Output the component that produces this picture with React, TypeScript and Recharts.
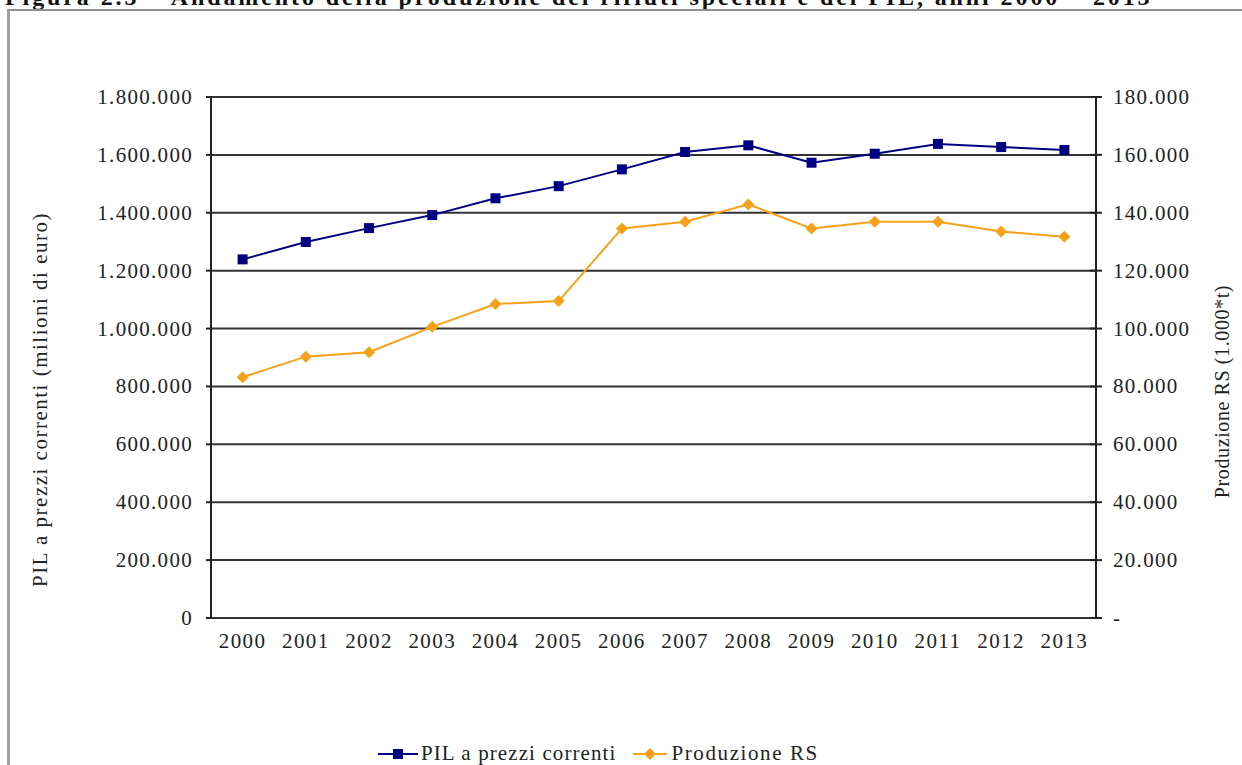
import { LineChart, Line, XAxis, YAxis, CartesianGrid, Legend } from 'recharts';

// Anni e valori
const years = [2000, 2001, 2002, 2003, 2004, 2005, 2006, 2007, 2008, 2009, 2010, 2011, 2012, 2013];
const pilValues = [1239000, 1299000, 1347000, 1392000, 1450000, 1492000, 1550000, 1610000, 1633000, 1573000, 1604000, 1638000, 1627000, 1617000];
const rsValues = [83200, 90300, 91800, 100600, 108500, 109500, 134600, 136900, 142900, 134600, 136900, 136900, 133500, 131700];
const pilTicks = [0, 200000, 400000, 600000, 800000, 1000000, 1200000, 1400000, 1600000, 1800000];
const rsTicks = [0, 20000, 40000, 60000, 80000, 100000, 120000, 140000, 160000, 180000];

const TITLE = 'Figura 2.5 – Andamento della produzione dei rifiuti speciali e del PIL, anni 2000 – 2013';
const PIL_NAME = 'PIL a prezzi correnti';
const RS_NAME = 'Produzione RS';

const NAVY = '#000080';
const ORANGE = '#F7A11A';
const FONT = '"Liberation Serif", "Times New Roman", serif';

const data = years.map((year, i) => ({ year, pil: pilValues[i], rs: rsValues[i] }));
// bordi tra le categorie (tacche dell'asse X)
const boundaryTicks = [...years.map((y) => y - 0.5), years[years.length - 1] + 0.5];

const fmt = (v: number) => String(v).replace(/\B(?=(\d{3})+(?!\d))/g, '.');

const SquareDot = (props: any) => {
  const { cx, cy } = props;
  if (cx == null || cy == null) return null;
  return <rect x={cx - 5} y={cy - 5} width={10} height={10} fill={NAVY} />;
};

const DiamondDot = (props: any) => {
  const { cx, cy } = props;
  if (cx == null || cy == null) return null;
  return <polygon points={`${cx},${cy - 6} ${cx + 6},${cy} ${cx},${cy + 6} ${cx - 6},${cy}`} fill={ORANGE} />;
};

const LeftTick = ({ x, y, payload }: any) => (
  <g>
    <line x1={x - 5} x2={x} y1={y} y2={y} stroke="#222" strokeWidth={2} />
    <text x={x - 18} y={y + 7} textAnchor="end" fontSize={21} letterSpacing={1.3} fill="#222" fontFamily={FONT}>
      {fmt(payload.value)}
    </text>
  </g>
);

const RightTick = ({ x, y, payload }: any) => (
  <g>
    <line x1={x - 6} x2={x + 6} y1={y} y2={y} stroke="#222" strokeWidth={2} />
    <text x={x + 17} y={y + 7} textAnchor="start" fontSize={21} letterSpacing={1.3} fill="#222" fontFamily={FONT}>
      {payload.value === 0 ? '-' : fmt(payload.value)}
    </text>
  </g>
);

const TickMark = ({ x, y }: any) => <line x1={x} x2={x} y1={y - 6} y2={y + 6} stroke="#222" strokeWidth={2} />;

const YearLabel = ({ x, y, payload }: any) => (
  <text x={x} y={y + 30} textAnchor="middle" fontSize={21} letterSpacing={1.4} fill="#222" fontFamily={FONT}>
    {payload.value}
  </text>
);

const LegendContent = () => (
  <div style={{ display: 'flex', alignItems: 'center', fontFamily: FONT, fontSize: 21, color: '#222', letterSpacing: 1.1 }}>
    <svg width={40} height={20}>
      <line x1={0} x2={40} y1={10} y2={10} stroke={NAVY} strokeWidth={2} />
      <rect x={15} y={5} width={10} height={10} fill={NAVY} />
    </svg>
    <span style={{ marginLeft: 3, marginRight: 17 }}>{PIL_NAME}</span>
    <svg width={34} height={20}>
      <line x1={0} x2={34} y1={10} y2={10} stroke={ORANGE} strokeWidth={2} />
      <polygon points="17,4 23,10 17,16 11,10" fill={ORANGE} />
    </svg>
    <span style={{ marginLeft: 4, letterSpacing: 1.6 }}>{RS_NAME}</span>
  </div>
);

const App = () => {
  return (
    <div
      style={{
        position: 'absolute',
        left: 0,
        top: 0,
        width: 1242,
        height: 765,
        overflow: 'hidden',
        background: '#fff',
        fontFamily: FONT,
      }}
    >
      <div
        style={{
          position: 'absolute',
          left: 5,
          top: -16,
          fontSize: 24,
          fontWeight: 'bold',
          letterSpacing: 2.9,
          whiteSpace: 'nowrap',
          color: '#111',
        }}
      >
        {TITLE}
      </div>
      <div
        style={{
          position: 'absolute',
          left: 7,
          top: 9,
          width: 1300,
          height: 800,
          borderLeft: '3px solid #a0a0a0',
          borderTop: '2px solid #909090',
        }}
      />
      <div style={{ position: 'absolute', left: 0, top: 0 }}>
        <LineChart width={1242} height={765} data={data} margin={{ top: 97, right: 0, bottom: 0, left: 0 }}>
          <CartesianGrid yAxisId="left" xAxisId="marks" vertical={false} stroke="#333" strokeWidth={2} />
          <XAxis
            xAxisId="marks"
            dataKey="year"
            type="number"
            domain={[years[0] - 0.5, years[years.length - 1] + 0.5]}
            ticks={boundaryTicks}
            interval={0}
            height={0}
            tickSize={0}
            tickMargin={0}
            tick={<TickMark />}
            tickLine={false}
            axisLine={{ stroke: '#222', strokeWidth: 2 }}
          />
          <XAxis
            xAxisId="years"
            dataKey="year"
            type="number"
            domain={[years[0] - 0.5, years[years.length - 1] + 0.5]}
            ticks={years}
            interval={0}
            height={147}
            tickSize={0}
            tickMargin={0}
            tick={<YearLabel />}
            tickLine={false}
            axisLine={false}
          />
          <YAxis
            yAxisId="left"
            width={211}
            domain={[0, 1800000]}
            ticks={pilTicks}
            interval={0}
            tickSize={0}
            tickMargin={0}
            tick={<LeftTick />}
            tickLine={false}
            axisLine={{ stroke: '#222', strokeWidth: 2 }}
            label={{
              value: 'PIL a prezzi correnti  (milioni di euro)',
              angle: -90,
              position: 'insideLeft',
              offset: 0,
              dx: 40,
              dy: 42,
              style: { fontFamily: FONT, fontSize: 21, letterSpacing: 1.5, fill: '#222', textAnchor: 'middle' },
            }}
          />
          <YAxis
            yAxisId="right"
            orientation="right"
            width={146}
            domain={[0, 180000]}
            ticks={rsTicks}
            interval={0}
            tickSize={0}
            tickMargin={0}
            tick={<RightTick />}
            tickLine={false}
            axisLine={{ stroke: '#222', strokeWidth: 2 }}
            label={{
              value: 'Produzione RS (1.000*t)',
              angle: -90,
              position: 'insideRight',
              offset: 0,
              dx: -20,
              dy: 34,
              style: { fontFamily: FONT, fontSize: 20, letterSpacing: 0.6, fill: '#222', textAnchor: 'middle' },
            }}
          />
          <Line
            xAxisId="marks"
            yAxisId="left"
            dataKey="pil"
            name={PIL_NAME}
            stroke={NAVY}
            strokeWidth={2}
            dot={<SquareDot />}
            activeDot={false}
            isAnimationActive={false}
          />
          <Line
            xAxisId="marks"
            yAxisId="right"
            dataKey="rs"
            name={RS_NAME}
            stroke={ORANGE}
            strokeWidth={2}
            dot={<DiamondDot />}
            activeDot={false}
            isAnimationActive={false}
          />
          <Legend
            verticalAlign="middle"
            layout="horizontal"
            content={<LegendContent />}
            wrapperStyle={{ top: 741, left: 378, width: 560, height: 24 }}
          />
        </LineChart>
      </div>
    </div>
  );
};

export default App;
